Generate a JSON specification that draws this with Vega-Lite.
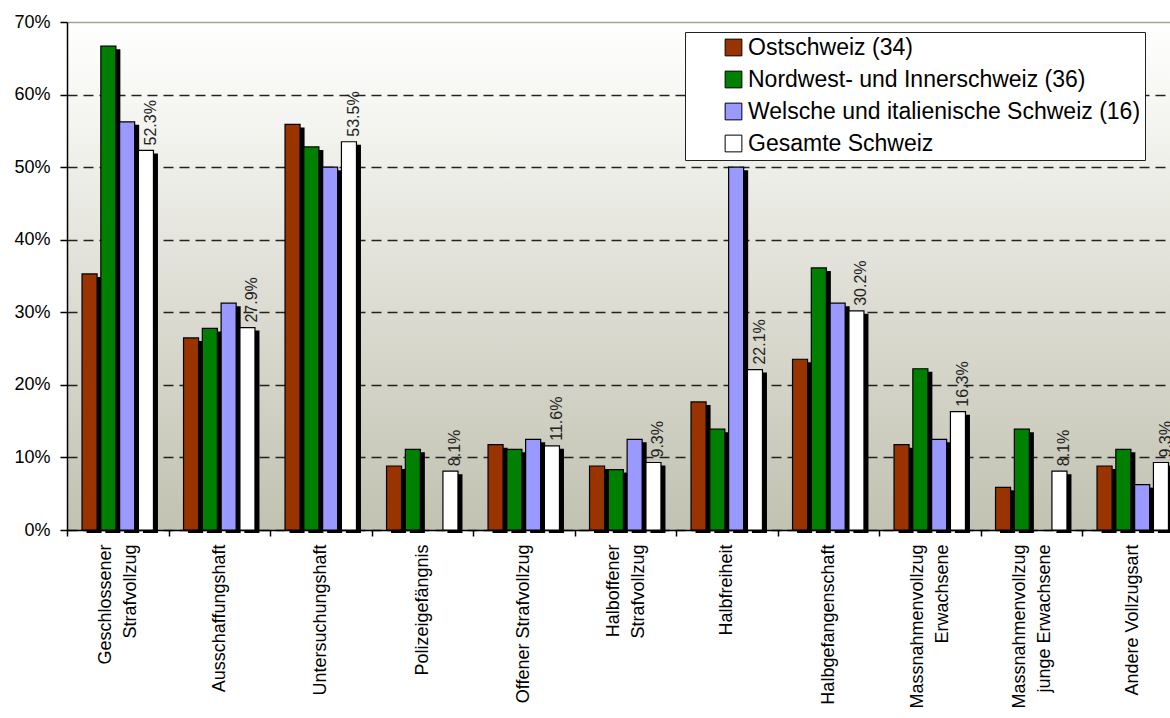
{
  "$schema": "https://vega.github.io/schema/vega-lite/v6.json",
  "width": 1103,
  "height": 508,
  "autosize": {"type": "none"},
  "padding": {"left": 67, "top": 22, "right": 0, "bottom": 188},
  "background": "white",
  "data": {
    "values": [
      {"Vollzugsform": "Geschlossener Strafvollzug", "Region": "Ostschweiz (34)", "Anteil": 0.3529},
      {"Vollzugsform": "Geschlossener Strafvollzug", "Region": "Nordwest- und Innerschweiz (36)", "Anteil": 0.6667},
      {"Vollzugsform": "Geschlossener Strafvollzug", "Region": "Welsche und italienische Schweiz (16)", "Anteil": 0.5625},
      {"Vollzugsform": "Geschlossener Strafvollzug", "Region": "Gesamte Schweiz", "Anteil": 0.523},
      {"Vollzugsform": "Ausschaffungshaft", "Region": "Ostschweiz (34)", "Anteil": 0.2647},
      {"Vollzugsform": "Ausschaffungshaft", "Region": "Nordwest- und Innerschweiz (36)", "Anteil": 0.2778},
      {"Vollzugsform": "Ausschaffungshaft", "Region": "Welsche und italienische Schweiz (16)", "Anteil": 0.3125},
      {"Vollzugsform": "Ausschaffungshaft", "Region": "Gesamte Schweiz", "Anteil": 0.279},
      {"Vollzugsform": "Untersuchungshaft", "Region": "Ostschweiz (34)", "Anteil": 0.5588},
      {"Vollzugsform": "Untersuchungshaft", "Region": "Nordwest- und Innerschweiz (36)", "Anteil": 0.5278},
      {"Vollzugsform": "Untersuchungshaft", "Region": "Welsche und italienische Schweiz (16)", "Anteil": 0.5},
      {"Vollzugsform": "Untersuchungshaft", "Region": "Gesamte Schweiz", "Anteil": 0.535},
      {"Vollzugsform": "Polizeigefängnis", "Region": "Ostschweiz (34)", "Anteil": 0.0882},
      {"Vollzugsform": "Polizeigefängnis", "Region": "Nordwest- und Innerschweiz (36)", "Anteil": 0.1111},
      {"Vollzugsform": "Polizeigefängnis", "Region": "Gesamte Schweiz", "Anteil": 0.081},
      {"Vollzugsform": "Offener Strafvollzug", "Region": "Ostschweiz (34)", "Anteil": 0.1176},
      {"Vollzugsform": "Offener Strafvollzug", "Region": "Nordwest- und Innerschweiz (36)", "Anteil": 0.1111},
      {"Vollzugsform": "Offener Strafvollzug", "Region": "Welsche und italienische Schweiz (16)", "Anteil": 0.125},
      {"Vollzugsform": "Offener Strafvollzug", "Region": "Gesamte Schweiz", "Anteil": 0.116},
      {"Vollzugsform": "Halboffener Strafvollzug", "Region": "Ostschweiz (34)", "Anteil": 0.0882},
      {"Vollzugsform": "Halboffener Strafvollzug", "Region": "Nordwest- und Innerschweiz (36)", "Anteil": 0.0833},
      {"Vollzugsform": "Halboffener Strafvollzug", "Region": "Welsche und italienische Schweiz (16)", "Anteil": 0.125},
      {"Vollzugsform": "Halboffener Strafvollzug", "Region": "Gesamte Schweiz", "Anteil": 0.093},
      {"Vollzugsform": "Halbfreiheit", "Region": "Ostschweiz (34)", "Anteil": 0.1765},
      {"Vollzugsform": "Halbfreiheit", "Region": "Nordwest- und Innerschweiz (36)", "Anteil": 0.1389},
      {"Vollzugsform": "Halbfreiheit", "Region": "Welsche und italienische Schweiz (16)", "Anteil": 0.5},
      {"Vollzugsform": "Halbfreiheit", "Region": "Gesamte Schweiz", "Anteil": 0.221},
      {"Vollzugsform": "Halbgefangenschaft", "Region": "Ostschweiz (34)", "Anteil": 0.2353},
      {"Vollzugsform": "Halbgefangenschaft", "Region": "Nordwest- und Innerschweiz (36)", "Anteil": 0.3611},
      {"Vollzugsform": "Halbgefangenschaft", "Region": "Welsche und italienische Schweiz (16)", "Anteil": 0.3125},
      {"Vollzugsform": "Halbgefangenschaft", "Region": "Gesamte Schweiz", "Anteil": 0.302},
      {"Vollzugsform": "Massnahmenvollzug Erwachsene", "Region": "Ostschweiz (34)", "Anteil": 0.1176},
      {"Vollzugsform": "Massnahmenvollzug Erwachsene", "Region": "Nordwest- und Innerschweiz (36)", "Anteil": 0.2222},
      {"Vollzugsform": "Massnahmenvollzug Erwachsene", "Region": "Welsche und italienische Schweiz (16)", "Anteil": 0.125},
      {"Vollzugsform": "Massnahmenvollzug Erwachsene", "Region": "Gesamte Schweiz", "Anteil": 0.163},
      {"Vollzugsform": "Massnahmenvollzug junge Erwachsene", "Region": "Ostschweiz (34)", "Anteil": 0.0588},
      {"Vollzugsform": "Massnahmenvollzug junge Erwachsene", "Region": "Nordwest- und Innerschweiz (36)", "Anteil": 0.1389},
      {"Vollzugsform": "Massnahmenvollzug junge Erwachsene", "Region": "Gesamte Schweiz", "Anteil": 0.081},
      {"Vollzugsform": "Andere Vollzugsart", "Region": "Ostschweiz (34)", "Anteil": 0.0882},
      {"Vollzugsform": "Andere Vollzugsart", "Region": "Nordwest- und Innerschweiz (36)", "Anteil": 0.1111},
      {"Vollzugsform": "Andere Vollzugsart", "Region": "Welsche und italienische Schweiz (16)", "Anteil": 0.0625},
      {"Vollzugsform": "Andere Vollzugsart", "Region": "Gesamte Schweiz", "Anteil": 0.093}
    ]
  },
  "encoding": {
    "x": {
      "field": "Vollzugsform",
      "type": "nominal",
      "sort": null,
      "scale": {"paddingInner": 0, "paddingOuter": 0, "range": [0, 1116.5]},
      "axis": {
        "title": null,
        "labelAngle": -90,
        "labelExpr": "datum.label == 'Offener Strafvollzug' || datum.label == 'Andere Vollzugsart' ? datum.label : split(replace(datum.label, ' ', '|'), '|')",
        "labelOffset": {
          "condition": {"test": "datum.label == 'Offener Strafvollzug' || datum.label == 'Andere Vollzugsart' || indexof(datum.label, ' ') < 0", "value": 0},
          "value": -12
        },
        "labelFontSize": 18,
        "labelLineHeight": 25,
        "labelPadding": 8,
        "labelLimit": 400,
        "tickBand": "extent",
        "tickSize": 6
      }
    },
    "xOffset": {
      "field": "Region",
      "type": "nominal",
      "scale": {
        "domain": ["Ostschweiz (34)", "Nordwest- und Innerschweiz (36)", "Welsche und italienische Schweiz (16)", "Gesamte Schweiz"],
        "paddingInner": 0.2,
        "paddingOuter": 0.8
      }
    },
    "y": {
      "field": "Anteil",
      "type": "quantitative",
      "scale": {"domain": [0, 0.7], "nice": false},
      "axis": {
        "title": null,
        "values": [0, 0.1, 0.2, 0.3, 0.4, 0.5, 0.6, 0.7],
        "format": ".0%",
        "labelFontSize": 18,
        "labelPadding": 10,
        "tickSize": 7,
        "grid": true,
        "gridColor": {"condition": {"test": "datum.value >= 0.7", "value": "#a3a394"}, "value": "#222222"},
        "gridDash": {"condition": {"test": "datum.value >= 0.7", "value": []}, "value": [10, 6]},
        "gridWidth": 1.6
      }
    }
  },
  "layer": [
    {
      "mark": {"type": "bar", "fill": "black", "stroke": null, "yOffset": 3, "y2Offset": -3},
      "encoding": {
        "xOffset": {
          "field": "Region",
          "type": "nominal",
          "scale": {
            "domain": ["Ostschweiz (34)", "Nordwest- und Innerschweiz (36)", "Welsche und italienische Schweiz (16)", "Gesamte Schweiz"],
            "paddingInner": 0.2,
            "paddingOuter": 0.8,
            "range": [4.5, 106]
          }
        }
      }
    },
    {
      "mark": {"type": "bar", "stroke": "black", "strokeWidth": 1.2},
      "encoding": {
        "fill": {
          "field": "Region",
          "type": "nominal",
          "scale": {
            "domain": ["Ostschweiz (34)", "Nordwest- und Innerschweiz (36)", "Welsche und italienische Schweiz (16)", "Gesamte Schweiz"],
            "range": ["#993300", "#008000", "#9999ff", "#ffffff"]
          },
          "legend": {
            "title": null,
            "orient": "none",
            "legendX": 618,
            "legendY": 10,
            "fillColor": "white",
            "strokeColor": "#222222",
            "padding": 4,
            "symbolType": "square",
            "symbolSize": 280,
            "symbolOffset": 33,
            "symbolStrokeColor": "black",
            "symbolStrokeWidth": 1,
            "symbolOpacity": 1,
            "labelFontSize": 23,
            "labelOffset": 3,
            "labelLimit": 600,
            "labelColor": "black",
            "rowPadding": 8
          }
        }
      }
    },
    {
      "transform": [{"filter": "datum.Region == 'Gesamte Schweiz'"}],
      "mark": {
        "type": "text",
        "angle": 270,
        "align": "left",
        "baseline": "middle",
        "dx": 5,
        "fontSize": 16,
        "font": "Liberation Sans",
        "color": "#222222"
      },
      "encoding": {
        "text": {"field": "Anteil", "type": "quantitative", "format": ".1%"}
      }
    }
  ],
  "resolve": {"scale": {"xOffset": "independent"}},
  "config": {
    "font": "Liberation Sans",
    "view": {
      "stroke": null,
      "fill": {
        "gradient": "linear",
        "x1": 0, "y1": 0, "x2": 0, "y2": 1,
        "stops": [
          {"offset": 0, "color": "#ffffff"},
          {"offset": 0.25, "color": "#f1f1ec"},
          {"offset": 0.6, "color": "#d9d9cf"},
          {"offset": 1, "color": "#c2c2b2"}
        ]
      }
    },
    "axis": {
      "labelFont": "Liberation Sans",
      "labelColor": "black",
      "domainColor": "black",
      "domainWidth": 1.5,
      "tickColor": "black",
      "tickWidth": 1.5
    }
  }
}
